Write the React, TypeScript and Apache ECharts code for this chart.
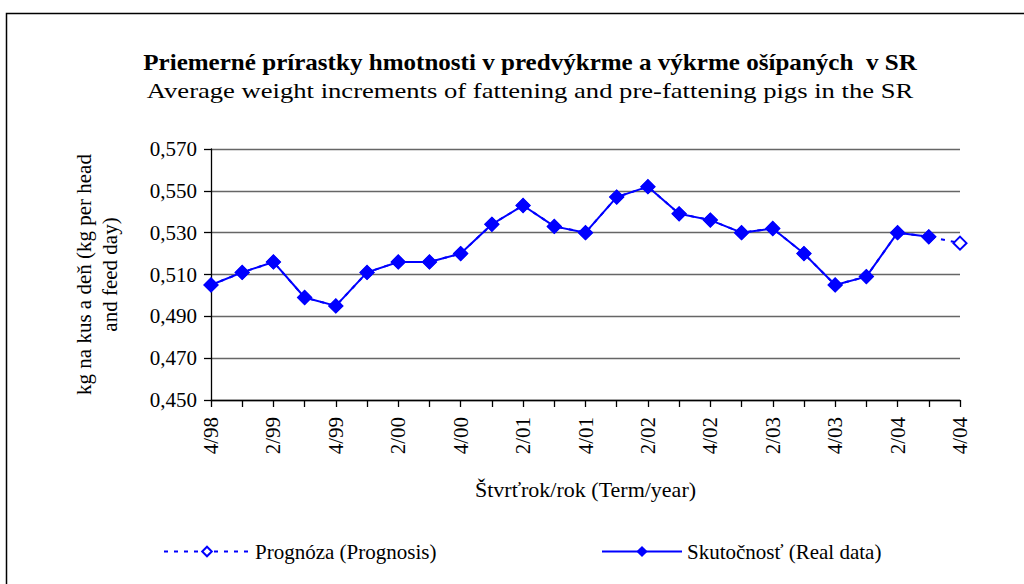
import React, { useEffect, useRef } from "react";
import * as echarts from "echarts";

const categories = [
  "4/98", "1/99", "2/99", "3/99", "4/99", "1/00", "2/00", "3/00", "4/00",
  "1/01", "2/01", "3/01", "4/01", "1/02", "2/02", "3/02", "4/02",
  "1/03", "2/03", "3/03", "4/03", "1/04", "2/04", "3/04", "4/04",
];

const realData = [
  0.505, 0.511, 0.516, 0.499, 0.495, 0.511, 0.516, 0.516, 0.520,
  0.534, 0.543, 0.533, 0.530, 0.547, 0.552, 0.539, 0.536,
  0.530, 0.532, 0.520, 0.505, 0.509, 0.530, 0.528,
];

const prognosisData = [
  0.505, 0.511, 0.516, 0.499, 0.495, 0.511, 0.516, 0.516, 0.520,
  0.534, 0.543, 0.533, 0.530, 0.547, 0.552, 0.539, 0.536,
  0.530, 0.532, 0.520, 0.505, 0.509, 0.530, 0.528, 0.525,
];

const yTicks = { min: 0.45, max: 0.57, step: 0.02 };

const FONT = "Liberation Serif";
const BLUE = "#0000FF";

export default function App() {
  const ref = useRef<HTMLDivElement>(null);
  useEffect(() => {
    document.body.style.margin = "0";
    const chart = echarts.init(ref.current!, null, { renderer: "svg" });
    chart.setOption({
      animation: false,
      backgroundColor: "#fff",
      textStyle: { fontFamily: FONT, color: "#000" },
      graphic: [
        {
          type: "rect",
          left: 4,
          top: 11,
          shape: { width: 1100, height: 700 },
          style: { fill: "none", stroke: "#000", lineWidth: 1.5 },
          silent: true,
        },
        {
          type: "text",
          x: 530,
          y: 62,
          scaleX: 1.09,
          style: {
            text: "Priemerné prírastky hmotnosti v predvýkrme a výkrme ošípaných  v SR",
            font: `bold 23px ${FONT}`,
            fill: "#000",
            textAlign: "center",
            textVerticalAlign: "middle",
          },
        },
        {
          type: "text",
          x: 530,
          y: 90,
          scaleX: 1.21,
          style: {
            text: "Average weight increments of fattening and pre-fattening pigs in the SR",
            font: `22px ${FONT}`,
            fill: "#000",
            textAlign: "center",
            textVerticalAlign: "middle",
          },
        },
      ],
      grid: { left: 211, right: 64, top: 149, bottom: 184, containLabel: false },
      legend: [
        {
          data: ["Prognóza (Prognosis)"],
          left: 158,
          top: 536,
          itemWidth: 86,
          itemHeight: 12,
          itemGap: 8,
          textStyle: { fontFamily: FONT, fontSize: 21, color: "#000" },
        },
        {
          data: ["Skutočnosť (Real data)"],
          left: 596,
          top: 536,
          itemWidth: 80,
          itemHeight: 14,
          textStyle: { fontFamily: FONT, fontSize: 21, color: "#000" },
        },
      ],
      xAxis: {
        type: "category",
        data: categories,
        boundaryGap: false,
        name: "Štvrťrok/rok (Term/year)",
        nameLocation: "middle",
        nameGap: 78,
        nameTextStyle: { fontFamily: FONT, fontSize: 22, color: "#000" },
        axisLine: { lineStyle: { color: "#000", width: 1.3 } },
        axisTick: { show: true, interval: 0, length: 7, lineStyle: { color: "#000", width: 1.3 } },
        axisLabel: {
          interval: 1,
          rotate: 90,
          fontFamily: FONT,
          fontSize: 21,
          color: "#000",
          margin: 17,
        },
        splitLine: { show: false },
      },
      yAxis: {
        type: "value",
        min: yTicks.min,
        max: yTicks.max,
        interval: yTicks.step,
        name: "kg na kus a deň (kg per head\nand feed day)",
        nameLocation: "middle",
        nameRotate: 90,
        nameGap: 88,
        nameTextStyle: { fontFamily: FONT, fontSize: 21, color: "#000", lineHeight: 26 },
        axisLine: { show: true, lineStyle: { color: "#000", width: 1.3 } },
        axisTick: { show: true, length: 7, lineStyle: { color: "#000", width: 1.3 } },
        axisLabel: {
          fontFamily: FONT,
          fontSize: 21,
          color: "#000",
          margin: 14,
          formatter: (v: number) => v.toFixed(3).replace(".", ","),
        },
        splitLine: { show: true, lineStyle: { color: "#666", width: 1.4 } },
      },
      series: [
        {
          name: "Prognóza (Prognosis)",
          type: "line",
          data: prognosisData,
          symbol: "emptyDiamond",
          symbolSize: 13,
          z: 2,
          itemStyle: { color: BLUE, borderWidth: 2 },
          lineStyle: { color: BLUE, width: 2, type: [4, 6] },
        },
        {
          name: "Skutočnosť (Real data)",
          type: "line",
          data: realData,
          symbol: "diamond",
          symbolSize: 15,
          z: 3,
          itemStyle: { color: BLUE },
          lineStyle: { color: BLUE, width: 2 },
        },
      ],
    });
    return () => chart.dispose();
  }, []);
  return <div ref={ref} style={{ width: 1024, height: 584 }} />;
}
